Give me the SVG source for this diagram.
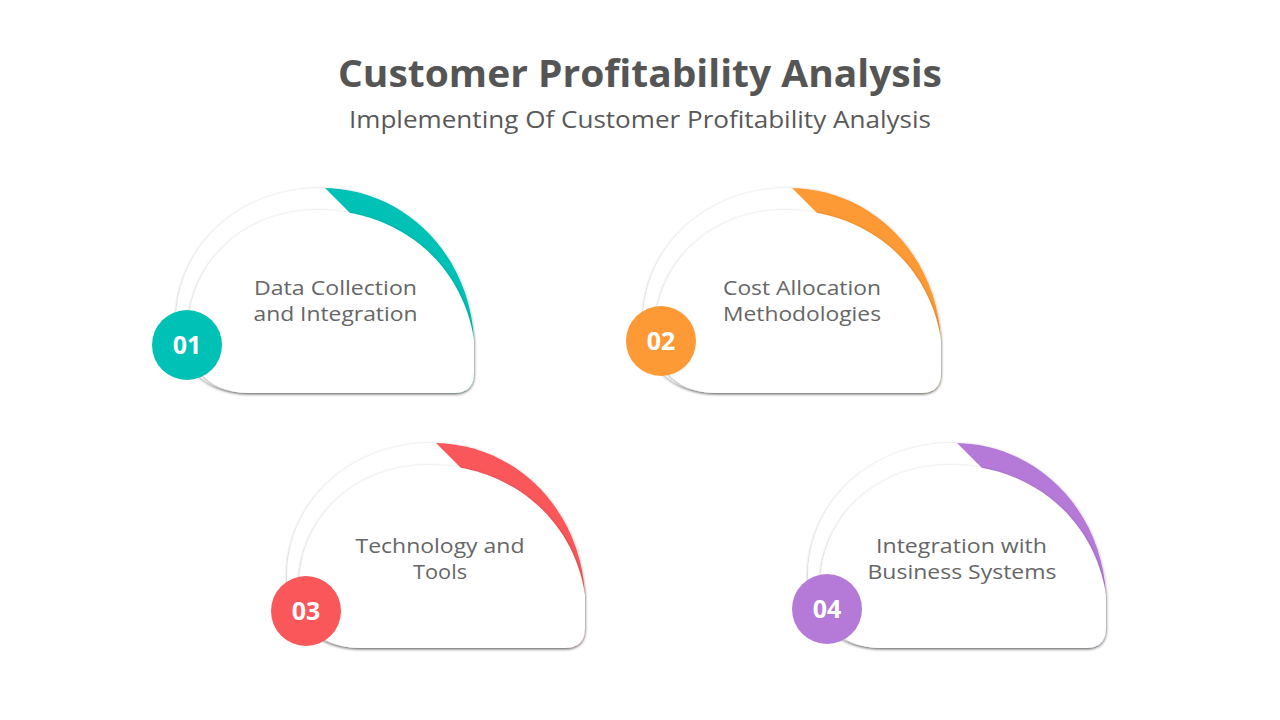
<svg xmlns="http://www.w3.org/2000/svg" width="1280" height="720" viewBox="0 0 1280 720">
  <style>
    .title { font-family: "Open Sans", "Liberation Sans", sans-serif; font-weight: 700; font-size: 38px; fill: #555555; text-anchor: middle; }
    .subtitle { font-family: "Open Sans", "Liberation Sans", sans-serif; font-weight: 400; font-size: 23px; fill: #595959; text-anchor: middle; }
    .label { font-family: "Open Sans", "Liberation Sans", sans-serif; font-weight: 400; font-size: 20.5px; fill: #666666; text-anchor: middle; }
    .num { font-family: "Open Sans", "Liberation Sans", sans-serif; font-weight: 700; font-size: 25px; fill: #ffffff; text-anchor: middle; }
    .card { fill: #ffffff; filter: url(#shadow); }
  </style>
  <defs>
    <filter id="shadow" x="-10%" y="-10%" width="120%" height="125%">
      <feDropShadow dx="0" dy="1" stdDeviation="1.8" flood-color="#000000" flood-opacity="0.4"/>
    </filter>
    <path id="outer" d="M 176 322 C 176 246 240 188 322 188 C 405 188 470 255 474 340 L 474 373 Q 474 393 454 393 L 250 393 C 205 393 176 366 176 322 Z"/>
    <path id="inner" d="M 188 332 C 188 262 245 210 318 210 C 398 210 462 262 474 340 L 474 373 Q 474 393 454 393 L 250 393 C 212 393 188 372 188 332 Z"/>
    <clipPath id="bandClip" clipPathUnits="userSpaceOnUse">
      <polygon points="311,174 620,174 620,420 370,420 370,233"/>
    </clipPath>
  </defs>

  <rect width="1280" height="720" fill="#ffffff"/>

  <g id="title">
    <text class="title" x="640" y="87" textLength="604" lengthAdjust="spacingAndGlyphs">Customer Profitability Analysis</text>
    <text class="subtitle" x="640" y="128" textLength="582" lengthAdjust="spacingAndGlyphs">Implementing Of Customer Profitability Analysis</text>
  </g>

  <g id="node1">
    <use href="#outer" class="card"/>
    <use href="#outer" fill="#00C1B5" clip-path="url(#bandClip)"/>
    <use href="#inner" class="card"/>
    <text class="label" x="335.5" y="295" textLength="163" lengthAdjust="spacingAndGlyphs">Data Collection</text>
    <text class="label" x="335.5" y="321" textLength="164" lengthAdjust="spacingAndGlyphs">and Integration</text>
    <circle cx="187" cy="345" r="35" fill="#00C1B5"/>
    <text class="num" x="187" y="354">01</text>
  </g>

  <g id="node2" transform="translate(467,0)">
    <use href="#outer" class="card"/>
    <use href="#outer" fill="#FD9A35" clip-path="url(#bandClip)"/>
    <use href="#inner" class="card"/>
    <text class="label" x="335" y="295" textLength="158" lengthAdjust="spacingAndGlyphs">Cost Allocation</text>
    <text class="label" x="335" y="321" textLength="158" lengthAdjust="spacingAndGlyphs">Methodologies</text>
    <circle cx="194" cy="341" r="35" fill="#FD9A35"/>
    <text class="num" x="194" y="350">02</text>
  </g>

  <g id="node3" transform="translate(111,255)">
    <use href="#outer" class="card"/>
    <use href="#outer" fill="#F95759" clip-path="url(#bandClip)"/>
    <use href="#inner" class="card"/>
    <text class="label" x="329" y="298" textLength="169" lengthAdjust="spacingAndGlyphs">Technology and</text>
    <text class="label" x="329" y="324" textLength="54" lengthAdjust="spacingAndGlyphs">Tools</text>
    <circle cx="195" cy="356" r="35" fill="#F95759"/>
    <text class="num" x="195" y="365">03</text>
  </g>

  <g id="node4" transform="translate(632,255)">
    <use href="#outer" class="card"/>
    <use href="#outer" fill="#B57AD8" clip-path="url(#bandClip)"/>
    <use href="#inner" class="card"/>
    <text class="label" x="329.5" y="298" textLength="171" lengthAdjust="spacingAndGlyphs">Integration with</text>
    <text class="label" x="330" y="324" textLength="189" lengthAdjust="spacingAndGlyphs">Business Systems</text>
    <circle cx="195" cy="354" r="35" fill="#B57AD8"/>
    <text class="num" x="195" y="363">04</text>
  </g>

  <g id="connectors"></g>
</svg>
